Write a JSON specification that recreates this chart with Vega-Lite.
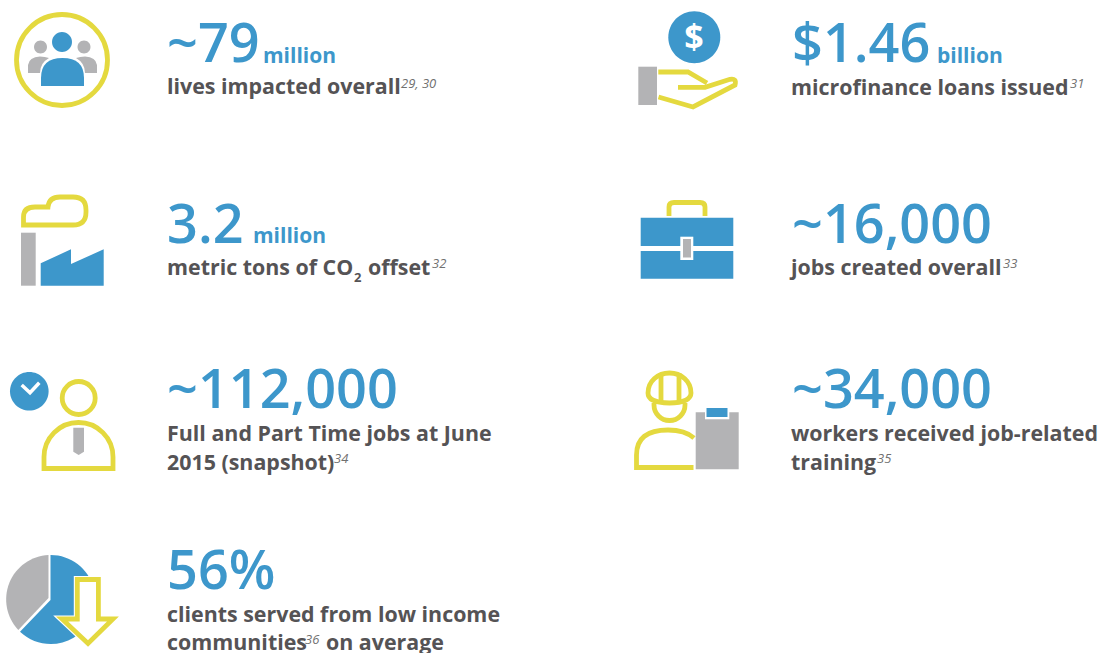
{
"$schema":"https://vega.github.io/schema/vega-lite/v6.json",
"width":1102,"height":653,"padding":0,
"autosize":{"type":"none"},
"background":"#ffffff",
"config":{"view":{"stroke":null}},
"datasets":{
"icons":[
{"part":"ring","x":62,"y":60,"tone":"yellow","style":"line"},
{"part":"grayHeadL","x":62,"y":60,"tone":"gray","style":"fill"},
{"part":"grayHeadR","x":62,"y":60,"tone":"gray","style":"fill"},
{"part":"grayBodyL","x":62,"y":60,"tone":"gray","style":"fill"},
{"part":"grayBodyR","x":62,"y":60,"tone":"gray","style":"fill"},
{"part":"blueHead","x":62,"y":60,"tone":"blue","style":"fill"},
{"part":"blueBody","x":62,"y":60,"tone":"blue","style":"fill"},
{"part":"cloud","x":62,"y":240,"tone":"yellow","style":"line"},
{"part":"chimney","x":62,"y":240,"tone":"gray","style":"fill"},
{"part":"factory","x":62,"y":240,"tone":"blue","style":"fill"},
{"part":"clock","x":78,"y":420,"tone":"blue","style":"fill"},
{"part":"check","x":78,"y":420,"tone":"white","style":"thin"},
{"part":"personHead","x":78,"y":420,"tone":"yellow","style":"line"},
{"part":"personBody","x":78,"y":420,"tone":"yellow","style":"line"},
{"part":"tie","x":78,"y":420,"tone":"gray","style":"fill"},
{"part":"pieGray","x":60,"y":600,"tone":"gray","style":"fill"},
{"part":"pieBlue","x":60,"y":600,"tone":"blue","style":"fill"},
{"part":"arrow","x":60,"y":600,"tone":"white","style":"fill"},
{"part":"arrow","x":60,"y":600,"tone":"white","style":"halo"},
{"part":"arrow","x":60,"y":600,"tone":"yellow","style":"line"},
{"part":"coin","x":690,"y":70,"tone":"blue","style":"fill"},
{"part":"cuff","x":690,"y":70,"tone":"gray","style":"fill"},
{"part":"handTop","x":690,"y":70,"tone":"yellow","style":"line"},
{"part":"handBottom","x":690,"y":70,"tone":"yellow","style":"line"},
{"part":"caseTop","x":687,"y":240,"tone":"blue","style":"fill"},
{"part":"caseBottom","x":687,"y":240,"tone":"blue","style":"fill"},
{"part":"clasp","x":687,"y":240,"tone":"white","style":"fill"},
{"part":"claspInner","x":687,"y":240,"tone":"gray","style":"fill"},
{"part":"caseHandle","x":687,"y":240,"tone":"yellow","style":"line"},
{"part":"hat","x":686,"y":420,"tone":"yellow","style":"line"},
{"part":"hatStripes","x":686,"y":420,"tone":"yellow","style":"line"},
{"part":"face","x":686,"y":420,"tone":"yellow","style":"line"},
{"part":"workerBody","x":686,"y":420,"tone":"yellow","style":"line"},
{"part":"board","x":686,"y":420,"tone":"gray","style":"fill"},
{"part":"clipWhite","x":686,"y":420,"tone":"white","style":"fill"},
{"part":"clipBlue","x":686,"y":420,"tone":"blue","style":"fill"}
],
"texts":[
{"kind":"number","x":167,"y":62,"label":"~79"},
{"kind":"unit","x":263,"y":63,"label":"million"},
{"kind":"label","x":167,"y":94,"label":"lives impacted overall"},
{"kind":"sup","x":401,"y":88,"label":"29, 30"},
{"kind":"number","x":167,"y":243,"label":"3.2"},
{"kind":"unit","x":253,"y":243,"label":"million"},
{"kind":"label","x":167,"y":275,"label":"metric tons of CO"},
{"kind":"sub","x":354,"y":282,"label":"2"},
{"kind":"label","x":368,"y":275,"label":"offset"},
{"kind":"sup","x":432,"y":268,"label":"32"},
{"kind":"number","x":167,"y":408,"label":"~112,000"},
{"kind":"label","x":167,"y":441,"label":"Full and Part Time jobs at June"},
{"kind":"label","x":167,"y":470,"label":"2015 (snapshot)"},
{"kind":"sup","x":334,"y":463,"label":"34"},
{"kind":"number","x":167,"y":589,"label":"56%"},
{"kind":"label","x":167,"y":622,"label":"clients served from low income"},
{"kind":"label","x":167,"y":650,"label":"communities"},
{"kind":"sup","x":305,"y":644,"label":"36"},
{"kind":"label","x":326,"y":650,"label":"on average"},
{"kind":"number","x":792,"y":62,"label":"$1.46"},
{"kind":"unit","x":937,"y":63,"label":"billion"},
{"kind":"label","x":791,"y":95,"label":"microfinance loans issued"},
{"kind":"sup","x":1070,"y":88,"label":"31"},
{"kind":"number","x":792,"y":243,"label":"~16,000"},
{"kind":"label","x":791,"y":275,"label":"jobs created overall"},
{"kind":"sup","x":1003,"y":268,"label":"33"},
{"kind":"number","x":792,"y":408,"label":"~34,000"},
{"kind":"label","x":791,"y":441,"label":"workers received job-related"},
{"kind":"label","x":791,"y":470,"label":"training"},
{"kind":"sup","x":877,"y":463,"label":"35"},
{"kind":"coin","x":694,"y":49,"label":"$"}
]
},
"layer":[
{
"data":{"name":"icons"},
"encoding":{
"x":{"field":"x","type":"quantitative","scale":{"domain":[0,1102]},"axis":null},
"y":{"field":"y","type":"quantitative","scale":{"domain":[653,0]},"axis":null},
"color":{"field":"tone","type":"nominal","legend":null,"scale":{"domain":["blue","gray","yellow","white"],"range":["#3d97cb","#b3b3b5","#e4d93f","#ffffff"]}},
"shape":{"field":"part","type":"nominal","legend":null,"scale":{
"domain":["ring","grayHeadL","grayHeadR","grayBodyL","grayBodyR","blueHead","blueBody","cloud","chimney","factory","clock","check","personHead","personBody","tie","pieGray","pieBlue","arrow","coin","cuff","handTop","handBottom","caseTop","caseBottom","clasp","claspInner","caseHandle","hat","hatStripes","face","workerBody","board","clipWhite","clipBlue"],
"range":[
"M-45.5 0A45.5 45.5 0 1 1 45.5 0A45.5 45.5 0 1 1 -45.5 0Z",
"M-28 -13A6.5 6.5 0 1 1 -15 -13A6.5 6.5 0 1 1 -28 -13Z",
"M15.5 -13A6.5 6.5 0 1 1 28.5 -13A6.5 6.5 0 1 1 15.5 -13Z",
"M-34 13V5Q-33 -3 -22 -3.5Q-17 -3.5 -13 -2Q-22 3 -22 13Z",
"M35 13V5Q34 -3 23 -3.5Q18 -3.5 14 -2Q23 3 23 13Z",
"M-10 -18A10 10 0 1 1 10 -18A10 10 0 1 1 -10 -18Z",
"M-21 26V18Q-21 -2 0.5 -2Q22 -2 22 18V26Z",
"M-38.5 -15V-23Q-38.5 -33 -27 -33H-14Q-13 -43 -2 -43H11Q24 -43 24 -30V-28Q24 -15 11 -15Z",
"M-41 -7.3H-26.3V45.7H-41Z",
"M-21.3 23.3L9 9.3V24L41.7 9.3V45.7H-21.3Z",
"M-68 -28.7A19.3 19.3 0 1 1 -29.4 -28.7A19.3 19.3 0 1 1 -68 -28.7Z",
"M-56.3 -35L-48 -27.3L-38.7 -37.3",
"M-15.8 -22A16.5 16.5 0 1 1 17.2 -22A16.5 16.5 0 1 1 -15.8 -22Z",
"M-34 48.5V37A34.5 34.5 0 0 1 35 37V48.5Z",
"M-4.7 7.7H6V31.7L0.7 35L-4.7 31.7Z",
"M-11.5 -45A44.5 44.5 0 0 0 -41.7 30L-11.5 -2Z",
"M-9.5 -45A44.5 44.5 0 1 1 -40 31.7L-9.5 0Z",
"M17.3 -20.5H38.4V19H53L28 43.5L2 19H17.3Z",
"M-21.7 -32.7A26 26 0 1 1 30.3 -32.7A26 26 0 1 1 -21.7 -32.7Z",
"M-51.7 -3.3H-33V35H-51.7Z",
"M-31.7 2H-2L17 13",
"M-12 17.3H15L40 9.3Q47 8 45 15L3 37L-31.5 27",
"M-46.3 -22.3H46.3V6H-46.3Z",
"M-46.3 11H46.3V38.7H-46.3Z",
"M-6.7 -3.3H6.3V20H-6.7Z",
"M-4 -1H4V17.5H-4Z",
"M-18 -24V-33Q-18 -37.5 -13 -37.5H13Q18 -37.5 18 -33V-24",
"M-38 -27C-38 -39 -28 -47 -16.5 -47C-5 -47 5 -39 5 -27C5 -21 -2 -17 -16.5 -17C-31 -17 -38 -21 -38 -27Z",
"M-25 -47V-18M-7 -47V-18",
"M-32 -17V-15A15.5 15.5 0 0 0 -1 -15V-17",
"M7.5 47.5H-49.5V35Q-49.5 10 -18 10Q-1 10 8 18",
"M9.7 -7.7H52.7V49.3H9.7Z",
"M19 -13.3H43.3V-0.7H19Z",
"M20.5 -12H41.5V-3H20.5Z"
]}}
},
"layer":[
{"transform":[{"filter":"datum.style === 'fill'"}],"mark":{"type":"point","filled":true,"size":4,"opacity":1,"strokeWidth":0}},
{"transform":[{"filter":"datum.style === 'halo'"}],"mark":{"type":"point","filled":false,"size":4,"opacity":1,"strokeWidth":7,"fill":null}},
{"transform":[{"filter":"datum.style === 'line'"}],"mark":{"type":"point","filled":false,"size":4,"opacity":1,"strokeWidth":4.8,"fill":null}},
{"transform":[{"filter":"datum.style === 'thin'"}],"mark":{"type":"point","filled":false,"size":4,"opacity":1,"strokeWidth":3.5,"fill":null}}
]
},
{
"data":{"name":"texts"},
"encoding":{
"x":{"field":"x","type":"quantitative","scale":{"domain":[0,1102]},"axis":null},
"y":{"field":"y","type":"quantitative","scale":{"domain":[653,0]},"axis":null},
"text":{"field":"label","type":"nominal"}
},
"layer":[
{"transform":[{"filter":"datum.kind === 'number'"}],"mark":{"type":"text","align":"left","baseline":"alphabetic","font":"Open Sans","fontSize":54,"fontWeight":600,"color":"#3d97cb"}},
{"transform":[{"filter":"datum.kind === 'unit'"}],"mark":{"type":"text","align":"left","baseline":"alphabetic","font":"Open Sans","fontSize":21,"fontWeight":700,"color":"#3d97cb"}},
{"transform":[{"filter":"datum.kind === 'label'"}],"mark":{"type":"text","align":"left","baseline":"alphabetic","font":"Open Sans","fontSize":21.4,"fontWeight":700,"color":"#555355"}},
{"transform":[{"filter":"datum.kind === 'sup'"}],"mark":{"type":"text","align":"left","baseline":"alphabetic","font":"Open Sans","fontSize":13,"fontStyle":"italic","color":"#707070"}},
{"transform":[{"filter":"datum.kind === 'sub'"}],"mark":{"type":"text","align":"left","baseline":"alphabetic","font":"Open Sans","fontSize":13,"fontWeight":700,"color":"#555355"}},
{"transform":[{"filter":"datum.kind === 'coin'"}],"mark":{"type":"text","align":"center","baseline":"alphabetic","font":"Open Sans","fontSize":34,"fontWeight":700,"color":"#ffffff"}}
]
}
]
}
